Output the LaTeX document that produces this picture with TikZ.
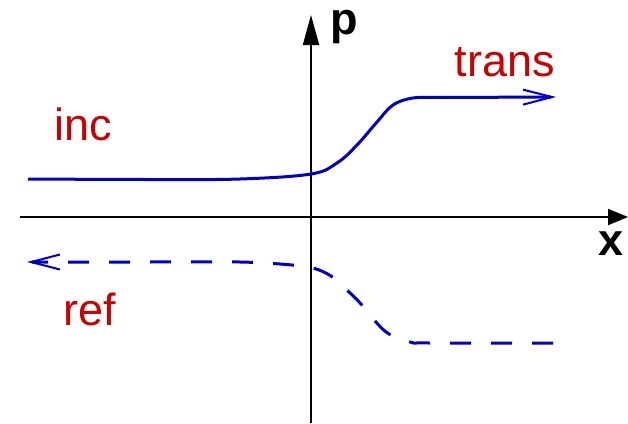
\documentclass[tikz,border=0pt]{standalone}
\usepackage{fontspec}
\setmainfont{Liberation Sans}
\usetikzlibrary{arrows.meta}
\definecolor{cblue}{RGB}{0,0,204}
\definecolor{cred}{RGB}{204,0,0}
\begin{document}
\begin{tikzpicture}[x=1pt,y=-1pt,
  axis/.style={line width=2pt,black},
  curve/.style={line width=3pt,cblue},
  lbl/.style={cred,font=\fontsize{45}{50}\selectfont,inner sep=0pt},
  axlbl/.style={black,font=\fontsize{45}{50}\selectfont\bfseries,inner sep=0pt}]
\useasboundingbox (0,0) rectangle (628,423);
\coordinate (xs) at (20,217);
\coordinate (xe) at (628,217);
\coordinate (ys) at (311,423);
\coordinate (ye) at (311,15);
\draw[axis,-{Triangle[length=20pt,width=16pt]}] (xs) -- (xe);
\draw[axis,-{Triangle[length=30pt,width=16pt]}] (ys) -- (ye);
\node[axlbl] (p) at (344,27) {p};
\node[axlbl] (x) at (611,244) {x};
\coordinate (a3) at (556,97);
\draw[curve,-{Straight Barb[length=29pt,width=15pt,line width=2pt]}]
  plot[smooth,tension=0.6] coordinates {(28,179) (150,179.5) (240,179) (311,174) (337,163) (357,145) (377,122) (393,105) (413,98) (440,97.5)} -- (a3);
\coordinate (b3) at (27,262);
\draw[curve,dash pattern=on 21pt off 20pt,-{Straight Barb[length=29pt,width=15pt,line width=2pt]}]
  plot[smooth,tension=0.6] coordinates {(553,343) (430,343) (410,342) (389,334) (375,321) (361,304) (348,291) (331,276) (313,268) (292,265) (240,262) (150,262)} -- (b3);
\node[lbl] (inc) at (83,124) {inc};
\node[lbl] (trans) at (505,62) {trans};
\node[lbl] (ref) at (90,309) {ref};
\end{tikzpicture}
\end{document}
